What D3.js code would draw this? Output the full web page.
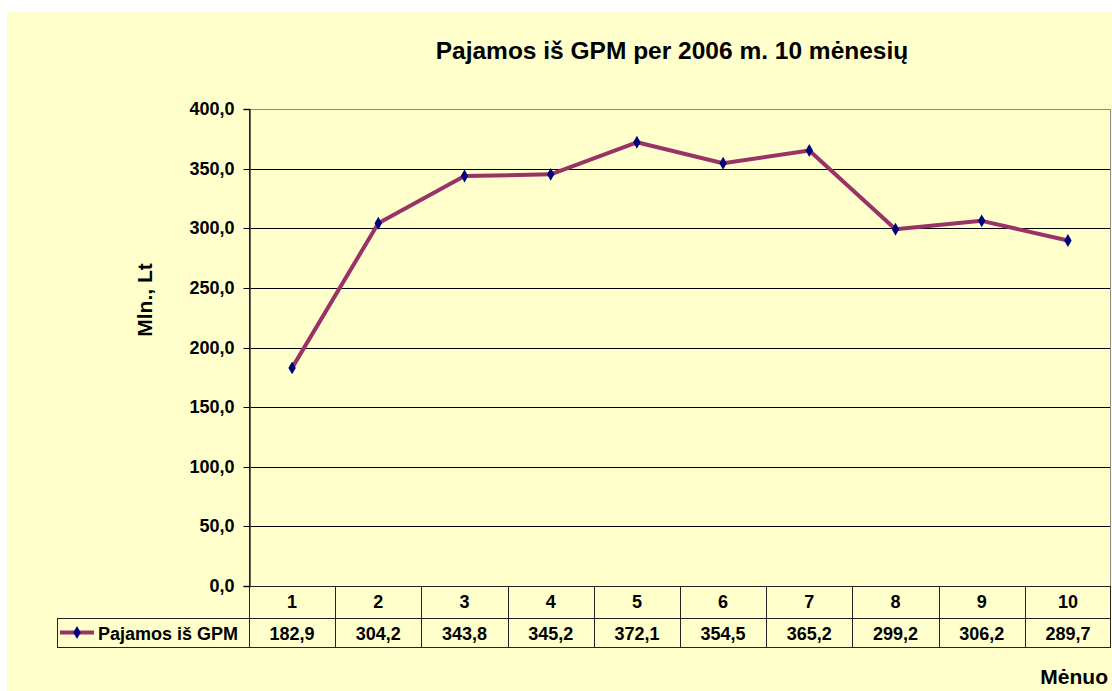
<!DOCTYPE html>
<html>
<head>
<meta charset="utf-8">
<script src="https://cdn.jsdelivr.net/npm/d3@7"></script>
<style>
  body { margin: 0; background: #fff; }
  text { font-family: Arial, "Liberation Sans", sans-serif; font-weight: bold; fill: #000; }
</style>
</head>
<body>
<div id="chart"></div>
<script>
// data
var months = ["1", "2", "3", "4", "5", "6", "7", "8", "9", "10"];
var values = [182.9, 304.2, 343.8, 345.2, 372.1, 354.5, 365.2, 299.2, 306.2, 289.7];
var yTicks = [0, 50, 100, 150, 200, 250, 300, 350, 400];
var seriesName = "Pajamos iš GPM";

var W = 1112, H = 691;
var plot = { left: 249, right: 1111, top: 109, bottom: 586 };
var row1 = 618, row2 = 647, legendLeft = 57;

var svg = d3.select("#chart").append("svg")
  .attr("width", W)
  .attr("height", H);

// chart area background
svg.append("rect")
  .attr("x", 7).attr("y", 12)
  .attr("width", W - 7).attr("height", H - 12)
  .attr("fill", "#FFFFCC");

var x = d3.scaleBand().domain(months).range([plot.left, plot.right]);
var y = d3.scaleLinear().domain([0, 400]).range([plot.bottom, plot.top]);
var fmt = function (d) { return d3.format(".1f")(d).replace(".", ","); };
var crisp = function (v) { return Math.round(v) + 0.5; };

// gridlines
svg.append("g")
  .selectAll("line")
  .data(yTicks)
  .enter()
  .append("line")
  .attr("x1", plot.left).attr("x2", plot.right)
  .attr("y1", function (d) { return crisp(y(d)); })
  .attr("y2", function (d) { return crisp(y(d)); })
  .attr("stroke", function (d) { return d == 400 ? "#888" : "#000"; })
  .attr("stroke-width", 1);

// right border of plot area
svg.append("line")
  .attr("x1", plot.right - 0.5).attr("x2", plot.right - 0.5)
  .attr("y1", plot.top).attr("y2", plot.bottom)
  .attr("stroke", "#888");

// y axis
var yAxis = svg.append("g")
  .attr("transform", "translate(" + (plot.left + 0.5) + ",0)")
  .call(d3.axisLeft(y).tickValues(yTicks).tickFormat(fmt).tickSize(6).tickPadding(9));
yAxis.select(".domain").attr("stroke", "#333").attr("stroke-width", 1.5);
yAxis.selectAll(".tick").attr("transform", function (d) { return "translate(0," + crisp(y(d)) + ")"; });
yAxis.selectAll(".tick line").attr("stroke", "#000");
yAxis.selectAll("text")
  .style("font-size", "18px")
  .style("font-family", "Arial, 'Liberation Sans', sans-serif")
  .style("font-weight", "bold")
  .attr("fill", "#000");

// data table
var table = svg.append("g").attr("stroke", "#222").attr("stroke-width", 1);
table.append("line").attr("x1", plot.left).attr("x2", plot.right)
  .attr("y1", plot.bottom + 0.5).attr("y2", plot.bottom + 0.5);
table.append("line").attr("x1", legendLeft).attr("x2", plot.right)
  .attr("y1", row1 + 0.5).attr("y2", row1 + 0.5);
table.append("line").attr("x1", legendLeft).attr("x2", plot.right)
  .attr("y1", row2 + 0.5).attr("y2", row2 + 0.5);
table.append("line").attr("x1", legendLeft + 0.5).attr("x2", legendLeft + 0.5)
  .attr("y1", row1).attr("y2", row2);
table.selectAll(".vcol")
  .data(months.concat(["end"]))
  .enter()
  .append("line")
  .attr("x1", function (d) { return d == "end" ? plot.right - 0.5 : crisp(x(d)); })
  .attr("x2", function (d) { return d == "end" ? plot.right - 0.5 : crisp(x(d)); })
  .attr("y1", function (d) { return d == "1" ? plot.top : plot.bottom; })
  .attr("y2", row2);

svg.append("g").selectAll("text")
  .data(months)
  .enter()
  .append("text")
  .attr("x", function (d) { return x(d) + x.bandwidth() / 2; })
  .attr("y", 608)
  .attr("text-anchor", "middle")
  .style("font-size", "18px")
  .text(function (d) { return d; });

svg.append("g").selectAll("text")
  .data(values)
  .enter()
  .append("text")
  .attr("x", function (d, i) { return x(months[i]) + x.bandwidth() / 2; })
  .attr("y", 640)
  .attr("text-anchor", "middle")
  .style("font-size", "18px")
  .text(function (d) { return fmt(d); });

// legend key in table
var diamond = d3.symbol().type(d3.symbolDiamond).size(48);
svg.append("line")
  .attr("x1", 60).attr("x2", 94)
  .attr("y1", 632.5).attr("y2", 632.5)
  .attr("stroke", "#993366").attr("stroke-width", 4);
svg.append("path")
  .attr("d", diamond)
  .attr("transform", "translate(77,632.5)")
  .attr("fill", "#000080");
svg.append("text")
  .attr("x", 98).attr("y", 640)
  .style("font-size", "18px")
  .text(seriesName);

// series line
var line = d3.line()
  .x(function (d, i) { return x(months[i]) + x.bandwidth() / 2; })
  .y(function (d) { return y(d); });

svg.append("path")
  .datum(values)
  .attr("d", line)
  .attr("fill", "none")
  .attr("stroke", "#993366")
  .attr("stroke-width", 4)
  .attr("stroke-linejoin", "round");

svg.append("g").selectAll("path")
  .data(values)
  .enter()
  .append("path")
  .attr("d", diamond)
  .attr("transform", function (d, i) {
    return "translate(" + (x(months[i]) + x.bandwidth() / 2) + "," + y(d) + ")";
  })
  .attr("fill", "#000080");

// titles
svg.append("text")
  .attr("x", 672).attr("y", 59)
  .attr("text-anchor", "middle")
  .style("font-size", "24.5px")
  .text("Pajamos iš GPM per 2006 m. 10 mėnesių");

svg.append("text")
  .attr("transform", "translate(152,300) rotate(-90)")
  .attr("text-anchor", "middle")
  .style("font-size", "21px")
  .text("Mln., Lt");

svg.append("text")
  .attr("x", 1108).attr("y", 684)
  .attr("text-anchor", "end")
  .style("font-size", "21px")
  .text("Mėnuo");
</script>
</body>
</html>
